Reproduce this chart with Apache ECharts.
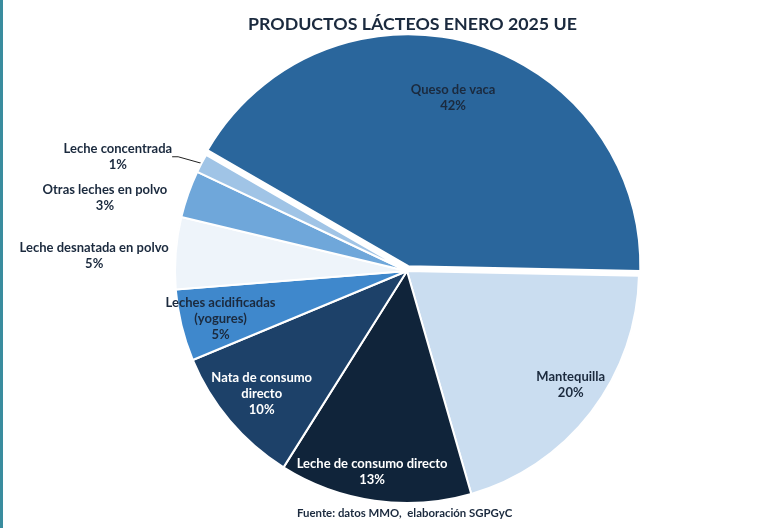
<!DOCTYPE html>
<html><head><meta charset="utf-8">
<script src="https://cdn.jsdelivr.net/npm/echarts@6/dist/echarts.min.js"></script>
<style>html,body{margin:0;padding:0;background:#fff}#c{width:779px;height:528px}</style>
</head><body><div id="c"></div>
<script>
// ---- data ----
const categories = ['Queso de vaca','Mantequilla','Leche de consumo directo','Nata de consumo directo','Leches acidificadas (yogures)','Leche desnatada en polvo','Otras leches en polvo','Leche concentrada'];
const labelTexts = ['Queso de vaca','Mantequilla','Leche de consumo directo','Nata de consumo\ndirecto','Leches acidificadas\n(yogures)','Leche desnatada en polvo','Otras leches en polvo','Leche concentrada'];
const shares = [42.0, 20.2, 13.4, 9.8, 5.0, 5.0, 3.3, 1.3];

// ---- styles / layout ----
const colors = ['#2A669C','#CADDF0','#10243A','#1D4169','#3F88CC','#EEF4FA','#6FA7DA','#A0C4E6'];
const labelColors = ['#1B2A3E','#1B2A3E','#FFFFFF','#FFFFFF','#1B2A3E','#1B2A3E','#1B2A3E','#1B2A3E'];
const labelDist = [0.75, 0.86, 0.88, 0.82, 0.83, 1.35, 1.34, 1.34];
const labelTurn = [0.7, 2.7, -1.8, 0, 0.9, 1.6, 5.7, 6.1];
const explodedIndex = 0;
const CX = 407, CY = 271, R = 232, START = 150, EXPLODE = 5;

const total = shares.reduce((a, b) => a + b, 0);
const mids = [];
(function () {
  let acc = 0;
  shares.forEach(v => { const span = v / total * 360; mids.push(START - acc - span / 2); acc += span; });
})();
const ea = mids[explodedIndex] * Math.PI / 180;
const centers = [[CX, CY], [CX + EXPLODE * Math.cos(ea), CY - EXPLODE * Math.sin(ea)]];

const chart = echarts.init(document.getElementById('c'), null, { renderer: 'canvas' });
const font = 'Lato, "Open Sans", sans-serif';
const clear = 'rgba(0,0,0,0)';

function makeSeries(si) {
  const ctr = centers[si];
  return {
    type: 'pie',
    silent: true,
    center: ctr,
    radius: [0, R],
    startAngle: START,
    clockwise: true,
    avoidLabelOverlap: false,
    emphasis: { disabled: true },
    itemStyle: { borderColor: '#ffffff', borderWidth: 2 },
    label: {
      position: 'outside',
      fontFamily: font, fontSize: 13, fontWeight: 'bold', lineHeight: 16,
      formatter: p => labelTexts[p.dataIndex] + '\n' + Math.round(p.value / total * 100) + '%'
    },
    labelLine: { show: false, lineStyle: { color: '#222', width: 1 } },
    labelLayout: function (p) {
      const i = p.dataIndex;
      const a = (mids[i] + labelTurn[i]) * Math.PI / 180;
      const d = labelDist[i] * R;
      return { x: ctr[0] + d * Math.cos(a), y: ctr[1] - d * Math.sin(a), align: 'center', verticalAlign: 'middle' };
    },
    data: categories.map((name, i) => {
      const mine = (si === 1) === (i === explodedIndex);
      return {
        name: name,
        value: shares[i],
        itemStyle: mine ? { color: colors[i] } : { color: clear, borderWidth: 0 },
        label: { show: mine, color: labelColors[i], position: labelDist[i] > 1 ? 'outside' : 'inside' },
        labelLine: { show: mine && i === categories.length - 1, length: 12, length2: 6 }
      };
    })
  };
}

chart.setOption({
  animation: false,
  backgroundColor: '#ffffff',
  title: {
    text: 'PRODUCTOS LÁCTEOS ENERO 2025 UE',
    left: 243, top: 10,
    textStyle: { fontFamily: font, fontSize: 17.8, fontWeight: 'bold', color: '#1B2A3E' }
  },
  graphic: [
    { type: 'rect', left: 0, top: 0, shape: { width: 3, height: 528 }, style: { fill: '#3A8C9E' } },
    { type: 'text', left: 297, top: 508,
      style: { text: 'Fuente: datos MMO,  elaboración SGPGyC', font: 'bold 11.4px ' + font, fill: '#1B2A3E' } }
  ],
  series: [makeSeries(0), makeSeries(1)]
});
</script>
</body></html>
